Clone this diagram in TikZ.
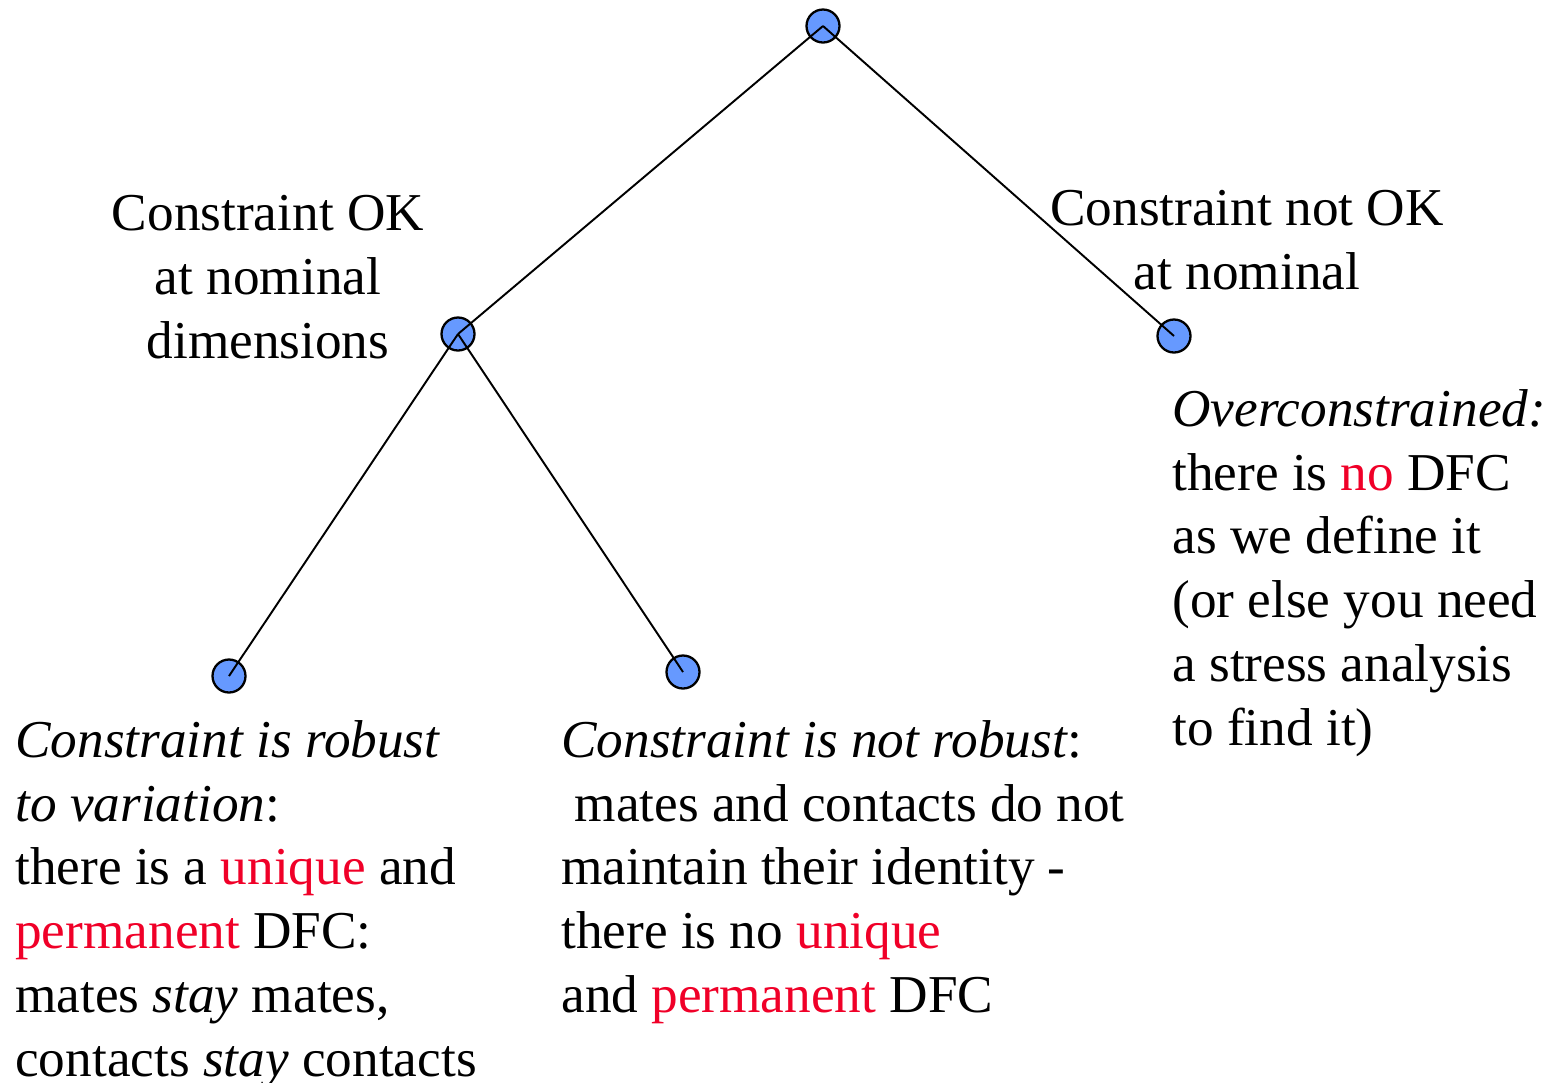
\documentclass[tikz,border=0pt]{standalone}
\usepackage{fontspec}
\setmainfont{Liberation Serif}
\usetikzlibrary{positioning}
\definecolor{nodeblue}{RGB}{102,153,255}
\definecolor{hired}{RGB}{240,0,40}
\newcommand{\hl}[1]{\textcolor{hired}{#1}}

\begin{document}
\begin{tikzpicture}[every node/.style={font=\fontsize{30.3}{36.3}\selectfont},
  vtx/.style={circle,draw,line width=1.3pt,fill=nodeblue,minimum size=0.66cm,inner sep=0pt},
  edge/.style={line width=1.1pt},
  lbl/.style={inner sep=0pt}]
\useasboundingbox (0,0) rectangle (30.98,-21.64);
\node[vtx] (root) at (16.46,-0.52) {};
\node[vtx] (ok) at (9.16,-6.68) {};
\node[vtx] (notok) at (23.48,-6.72) {};
\node[vtx] (robust) at (4.58,-13.52) {};
\node[vtx] (notrobust) at (13.66,-13.44) {};
\draw[edge] (root.center)--(ok.center);
\draw[edge] (root.center)--(notok.center);
\draw[edge] (ok.center)--(robust.center);
\draw[edge] (ok.center)--(notrobust.center);
\node[lbl,align=center,anchor=north] (okText) at (5.36,-3.90) {Constraint OK\\at nominal\\dimensions};
\node[lbl,align=center,anchor=north] (notokText) at (24.94,-3.80) {Constraint not OK\\at nominal};
\node[lbl,align=left,anchor=north west] (overText) at (23.44,-7.78) {\textit{Overconstrained:}\\there is \hl{no} DFC\\as we define it\\(or else you need\\a stress analysis\\to find it)};
\node[lbl,align=left,anchor=north west] (robustText) at (0.30,-14.40) {\textit{Constraint is robust}\\\textit{to variation}:\\there is a \hl{unique} and\\\hl{permanent} DFC:\\mates \textit{stay} mates,\\contacts \textit{stay} contacts};
\node[lbl,align=left,anchor=north west] (notrobustText) at (11.22,-14.40) {\textit{Constraint is not robust}:\\\hspace{0.25em}mates and contacts do not\\maintain their identity -\\there is no \hl{unique}\\and \hl{permanent} DFC};
\end{tikzpicture}
\end{document}
